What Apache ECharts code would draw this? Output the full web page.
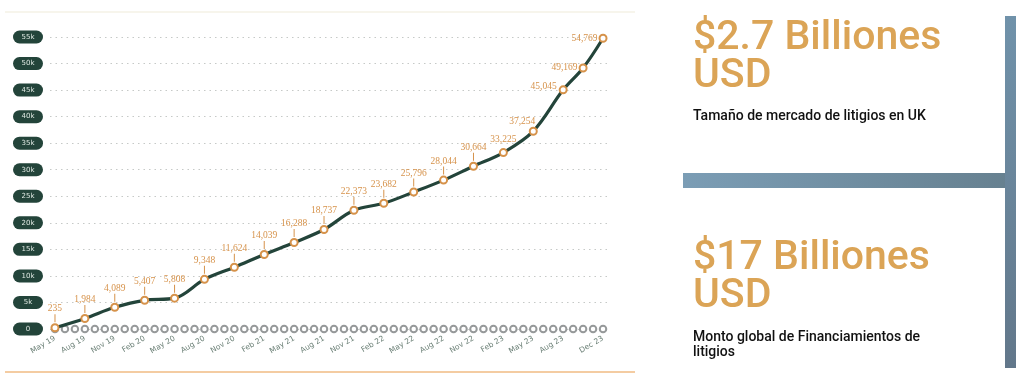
<!DOCTYPE html>
<html>
<head>
<meta charset="UTF-8">
<title></title>
<script src="https://cdn.jsdelivr.net/npm/echarts@6/dist/echarts.min.js"></script>
<style>
  html, body { margin: 0; padding: 0; background: #fff; }
  #main { width: 1024px; height: 376px; }
</style>
</head>
<body>
<div id="main"></div>
<script>
// monthly categories, May 19 .. Dec 23
var months = [
  'May 19', 'Jun 19', 'Jul 19', 'Aug 19', 'Sep 19', 'Oct 19', 'Nov 19', 'Dec 19',
  'Jan 20', 'Feb 20', 'Mar 20', 'Apr 20', 'May 20', 'Jun 20', 'Jul 20', 'Aug 20', 'Sep 20', 'Oct 20', 'Nov 20', 'Dec 20',
  'Jan 21', 'Feb 21', 'Mar 21', 'Apr 21', 'May 21', 'Jun 21', 'Jul 21', 'Aug 21', 'Sep 21', 'Oct 21', 'Nov 21', 'Dec 21',
  'Jan 22', 'Feb 22', 'Mar 22', 'Apr 22', 'May 22', 'Jun 22', 'Jul 22', 'Aug 22', 'Sep 22', 'Oct 22', 'Nov 22', 'Dec 22',
  'Jan 23', 'Feb 23', 'Mar 23', 'Apr 23', 'May 23', 'Jun 23', 'Jul 23', 'Aug 23', 'Sep 23', 'Oct 23', 'Nov 23', 'Dec 23'
];
// months shown on the x axis
var tickLabels = ['May 19', 'Aug 19', 'Nov 19', 'Feb 20', 'May 20', 'Aug 20', 'Nov 20', 'Feb 21', 'May 21', 'Aug 21',
  'Nov 21', 'Feb 22', 'May 22', 'Aug 22', 'Nov 22', 'Feb 23', 'May 23', 'Aug 23', 'Dec 23'];
// months that carry a value
var pointMonths = ['May 19', 'Aug 19', 'Nov 19', 'Feb 20', 'May 20', 'Aug 20', 'Nov 20', 'Feb 21', 'May 21', 'Aug 21',
  'Nov 21', 'Feb 22', 'May 22', 'Aug 22', 'Nov 22', 'Feb 23', 'May 23', 'Aug 23', 'Oct 23', 'Dec 23'];
var values = [235, 1984, 4089, 5407, 5808, 9348, 11624, 14039, 16288, 18737,
  22373, 23682, 25796, 28044, 30664, 33225, 37254, 45045, 49169, 54769];
// grey dots along the baseline
var baseline = [0,0,0,0,0,0,0,0, 0,0,0,0,0,0,0,0,0,0,0,0, 0,0,0,0,0,0,0,0,0,0,0,0,
  0,0,0,0,0,0,0,0,0,0,0,0, 0,0,0,0,0,0,0,0,0,0,0,0];

var green = '#23443a';
var orange = '#d6924a';
var gold = '#dba456';

function fmt(v) {
  return v < 1000 ? String(v) : v.toLocaleString('en-US');
}

function labelFor(i) {
  var rich = {
    v: { fontFamily: 'Liberation Serif', fontSize: 9.5, color: orange, lineHeight: 11 },
    l: { width: 1, height: 8, backgroundColor: orange }
  };
  if (i < 15) {
    return { show: true, position: 'top', distance: 1, rich: rich,
      formatter: function (p) { return '{v|' + fmt(p.value) + '}\n{l|}'; } };
  }
  var lab = { show: true, rich: rich, formatter: function (p) { return '{v|' + fmt(p.value) + '}'; } };
  if (i === 15) { lab.position = 'top'; lab.distance = 3; }
  else if (i === 16) { lab.position = 'top'; lab.distance = 0; lab.offset = [-11, 0]; }
  else if (i === 17) { lab.position = 'left'; lab.distance = 2; lab.offset = [0, -3]; }
  else { lab.position = 'left'; lab.distance = 1; }
  return lab;
}

var lineData = months.map(function (m) {
  var k = pointMonths.indexOf(m);
  if (k < 0) return null;
  return { value: values[k], label: labelFor(k) };
});

var myChart = echarts.init(document.getElementById('main'));

var option = {
  animation: false,
  grid: { left: 50, right: 416, top: 37, bottom: 47 },
  xAxis: {
    type: 'category',
    data: months,
    boundaryGap: true,
    axisLine: { show: false },
    axisTick: { show: false },
    axisLabel: {
      rotate: 30,
      margin: 9,
      fontFamily: 'DejaVu Sans',
      fontSize: 7.5,
      color: '#6c8077',
      interval: function (index, value) { return tickLabels.indexOf(value) >= 0; }
    }
  },
  yAxis: {
    type: 'value',
    min: 0,
    max: 55000,
    interval: 5000,
    axisLine: { show: false },
    axisTick: { show: false },
    splitLine: { lineStyle: { color: '#c6c9c7', type: [1.5, 4], width: 1.2 } },
    axisLabel: {
      margin: 22,
      align: 'center',
      width: 30,
      lineHeight: 8,
      padding: [2.5, 0],
      borderRadius: 6.5,
      backgroundColor: green,
      color: '#dfe8e2',
      fontFamily: 'DejaVu Sans',
      fontSize: 7,
      formatter: function (v) { return v === 0 ? '0' : (v / 1000) + 'k'; }
    }
  },
  series: [
    {
      type: 'line',
      data: baseline,
      symbol: 'emptyCircle',
      symbolSize: 6.5,
      showAllSymbol: true,
      silent: true,
      itemStyle: { color: '#96999a', borderWidth: 1.6 },
      lineStyle: { width: 0, opacity: 0 },
      z: 1
    },
    {
      type: 'line',
      data: lineData,
      connectNulls: true,
      smooth: 0.35,
      showAllSymbol: true,
      symbol: 'circle',
      symbolSize: 7,
      itemStyle: { color: '#ffffff', borderColor: orange, borderWidth: 2 },
      lineStyle: { color: green, width: 3.2 },
      z: 3
    }
  ],
  graphic: [
    { type: 'line', shape: { x1: 5, y1: 12, x2: 635, y2: 12 }, style: { stroke: '#f5f2e6', lineWidth: 1.5 } },
    { type: 'line', shape: { x1: 5, y1: 372, x2: 635, y2: 372 }, style: { stroke: '#f4cca2', lineWidth: 2 } },
    {
      type: 'rect', shape: { x: 683, y: 173, width: 330, height: 15 },
      style: { fill: new echarts.graphic.LinearGradient(0, 0, 1, 0, [
        { offset: 0, color: '#7b9db5' }, { offset: 1, color: '#66808f' }]) }
    },
    {
      type: 'rect', shape: { x: 1005, y: 16, width: 11, height: 352 },
      style: { fill: new echarts.graphic.LinearGradient(0, 0, 0, 1, [
        { offset: 0, color: '#7092aa' }, { offset: 1, color: '#62778a' }]) }
    },
    { type: 'text', x: 693, y: 39, style: { text: '$2.7 Billiones', fill: gold, fontFamily: 'Roboto', fontWeight: 500, fontSize: 41, verticalAlign: 'middle' } },
    { type: 'text', x: 693, y: 77, style: { text: 'USD', fill: gold, fontFamily: 'Roboto', fontWeight: 500, fontSize: 41, verticalAlign: 'middle' } },
    { type: 'text', x: 693, y: 116, style: { text: 'Tamaño de mercado de litigios en UK', fill: '#111', fontFamily: 'Roboto', fontWeight: 500, fontSize: 14, verticalAlign: 'middle' } },
    { type: 'text', x: 693, y: 259, style: { text: '$17 Billiones', fill: gold, fontFamily: 'Roboto', fontWeight: 500, fontSize: 41, verticalAlign: 'middle' } },
    { type: 'text', x: 693, y: 297, style: { text: 'USD', fill: gold, fontFamily: 'Roboto', fontWeight: 500, fontSize: 41, verticalAlign: 'middle' } },
    { type: 'text', x: 693, y: 337, style: { text: 'Monto global de Financiamientos de', fill: '#111', fontFamily: 'Roboto', fontWeight: 500, fontSize: 14, verticalAlign: 'middle' } },
    { type: 'text', x: 693, y: 352, style: { text: 'litigios', fill: '#111', fontFamily: 'Roboto', fontWeight: 500, fontSize: 14, verticalAlign: 'middle' } }
  ]
};

myChart.setOption(option);
</script>
</body>
</html>
